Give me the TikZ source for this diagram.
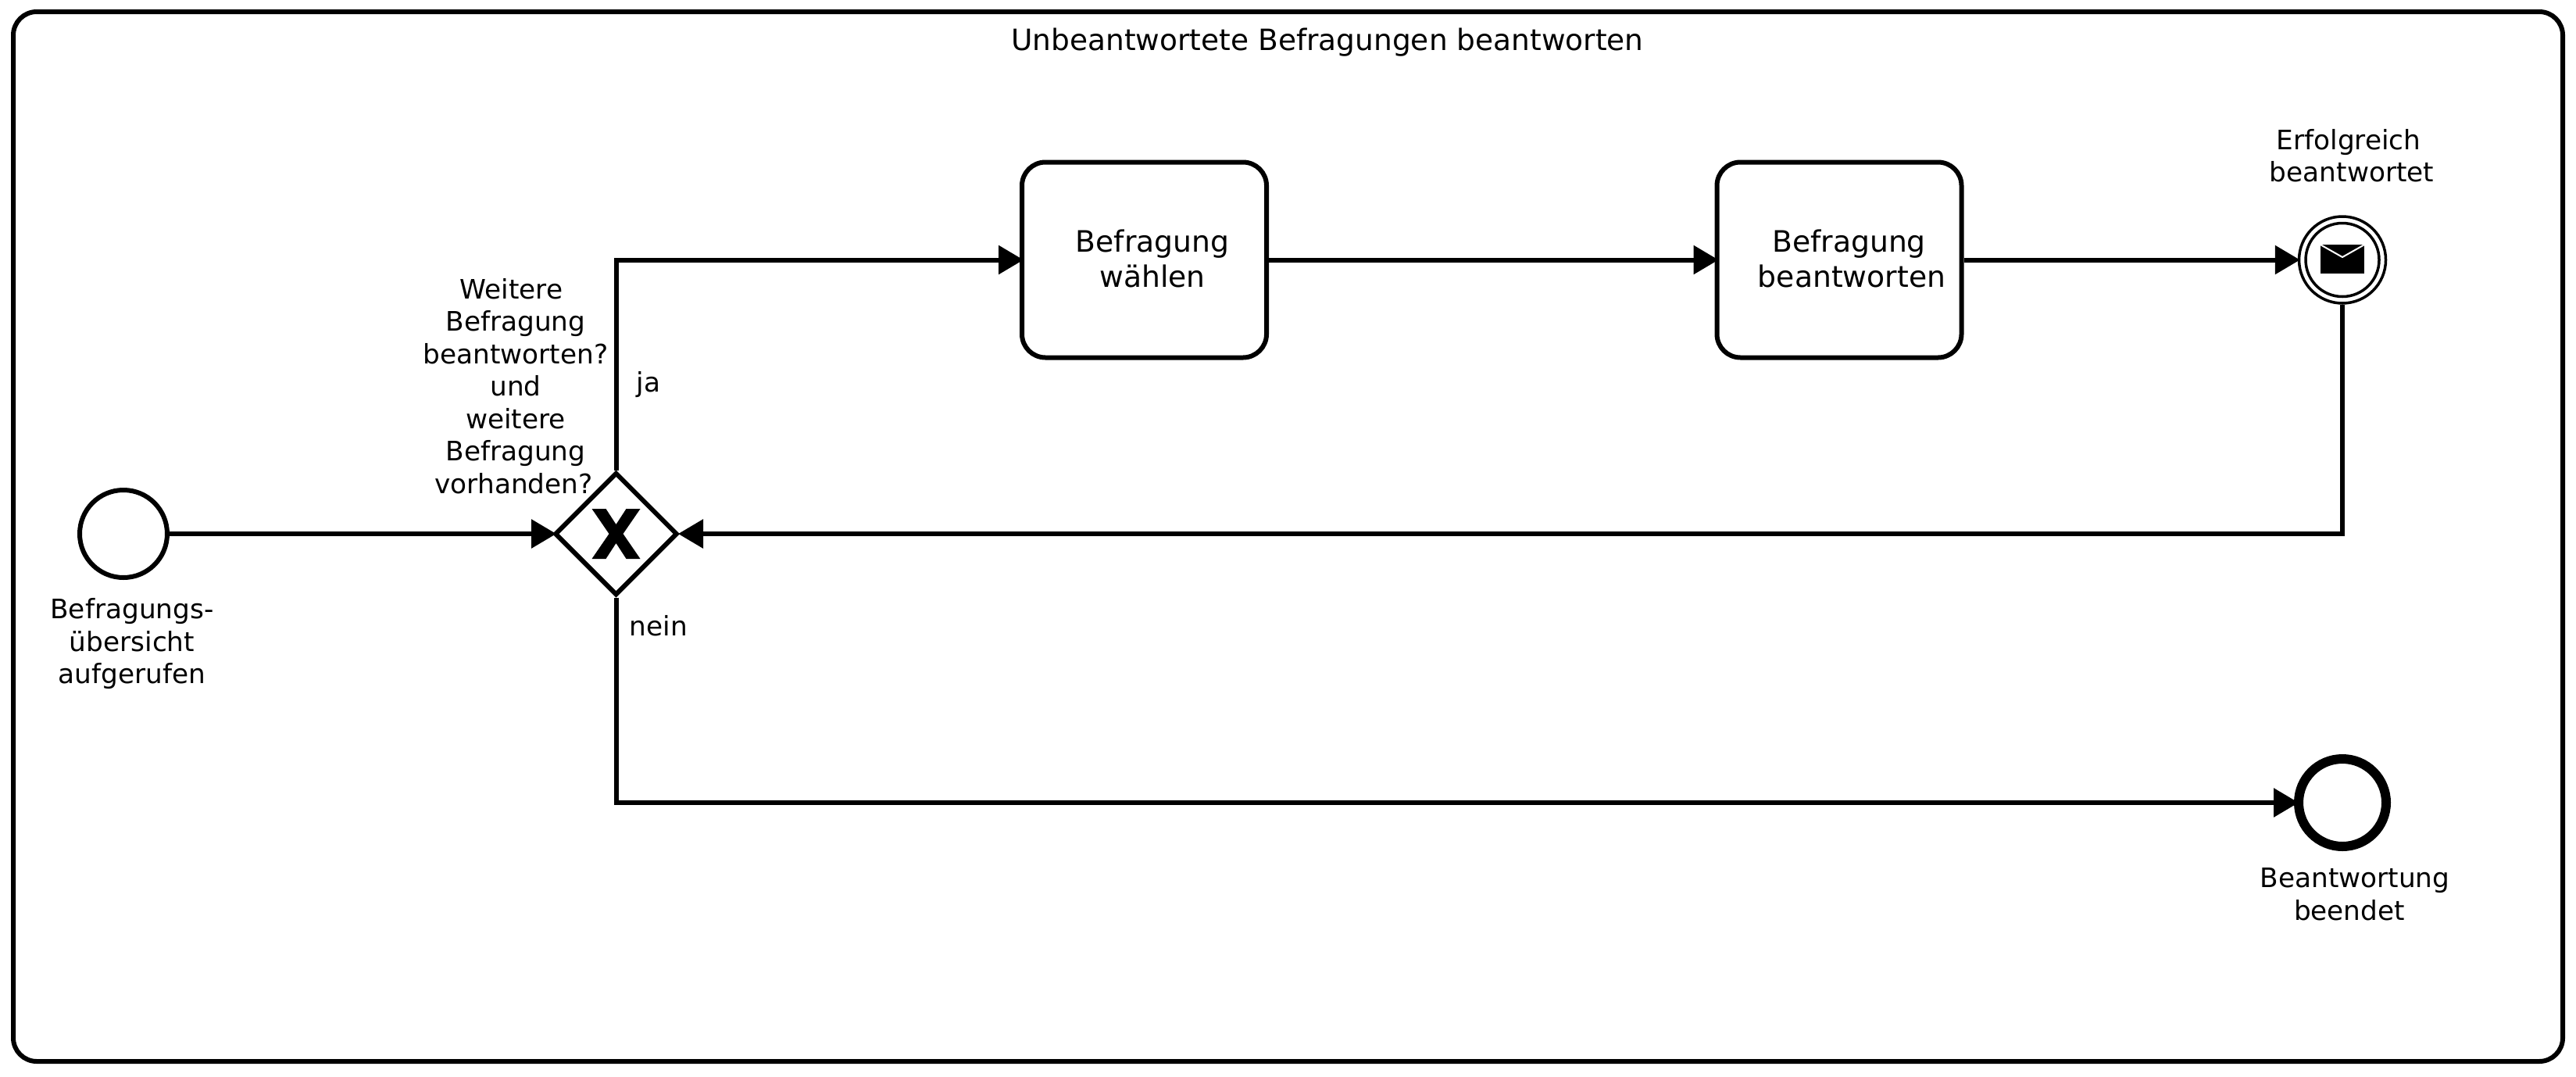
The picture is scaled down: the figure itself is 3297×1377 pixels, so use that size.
\documentclass[tikz,border=0pt]{standalone}
\usepackage{fontspec}
\setmainfont{DejaVu Sans}
\usetikzlibrary{arrows.meta,shapes.geometric}
\tikzset{
  flow/.style={line width=6pt,shorten >=-3pt,-{Triangle[length=32pt,width=36pt]}},
  taskbox/.style={draw,line width=6pt,rounded corners=30pt,minimum width=313pt,minimum height=250pt,inner sep=0pt},
  eventnode/.style={draw,circle,inner sep=0pt,fill=white},
  gatebox/.style={draw,diamond,line width=6pt,minimum width=157pt,minimum height=157pt,inner sep=0pt,fill=white},
  lbl/.style={font=\fontsize{34.3pt}{41.5pt}\selectfont,align=center,inner sep=0pt},
  tasklbl/.style={font=\fontsize{37.7pt}{45pt}\selectfont,align=center,inner sep=0pt}
}
\begin{document}
\begin{tikzpicture}[x=1pt,y=-1pt]
\useasboundingbox (0,0) rectangle (3297,1377);

\draw[line width=6pt,rounded corners=30pt] (17,15) rectangle (3280,1358);
\node[lbl,font=\fontsize{37.5pt}{44pt}\selectfont] (title) at (1699,54) {Unbeantwortete Befragungen beantworten};

\node[eventnode,line width=6pt,minimum size=112pt] (start) at (158,683) {};
\node[gatebox] (gate) at (788.5,683) {};
\fill[shift={(788.5,683)}] (-31,-32) -- (-13,-32) -- (0,-12) -- (13,-32) -- (31,-32) -- (9,0)
  -- (31,32) -- (13,32) -- (0,12) -- (-13,32) -- (-31,32) -- (-9,0) -- cycle;

\node[taskbox] (choose) at (1464.5,332.5) {};
\node[taskbox] (answer) at (2354,332.5) {};
\node[tasklbl] (chooselbl) at (1475,331) {Befragung\\wählen};
\node[tasklbl] (answerlbl) at (2370,331) {Befragung\hspace*{7pt}\\beantworten};

\node[eventnode,line width=3.5pt,minimum size=111pt] (msg) at (2998,332.5) {};
\node[eventnode,line width=3.5pt,minimum size=94pt] (msginner) at (2998,332.5) {};
\fill (2970,313) rectangle (3026,350);
\draw[white,line width=2pt] (2968,312) -- (2998,329) -- (3028,312);

\node[eventnode,line width=12pt,minimum size=112pt] (end) at (2998,1027) {};

% connectors
\draw[flow,shorten >=-5pt] (start) -- (gate);
\draw[flow,shorten >=-5pt] (gate.north) |- (choose.west);
\draw[flow,shorten >=-5pt] (choose) -- (answer);
\draw[flow] (answer) -- (msg);
\draw[flow,shorten >=-2pt] (msg.south) |- (gate.east);
\draw[flow,shorten >=-6pt] (gate.south) |- (end.west);

% labels
\node[lbl] (startlbl) at (169,824) {Befragungs-\\übersicht\\aufgerufen};
\node[lbl] (gatelbl) at (660,494) {Weitere\hspace*{11pt}\\Befragung\hspace*{7pt}\\beantworten?\\und\hspace*{20pt}\\weitere\hspace*{9pt}\\Befragung\hspace*{7pt}\\vorhanden?\hspace*{5pt}};
\node[lbl] (yes) at (830,492) {ja};
\node[lbl] (no) at (843,801) {nein};
\node[lbl] (msglbl) at (3010,199) {Erfolgreich\hspace*{8pt}\\beantwortet};
\node[lbl] (endlbl) at (3014,1144) {Beantwortung\\beendet\hspace*{14pt}};
\end{tikzpicture}
\end{document}
